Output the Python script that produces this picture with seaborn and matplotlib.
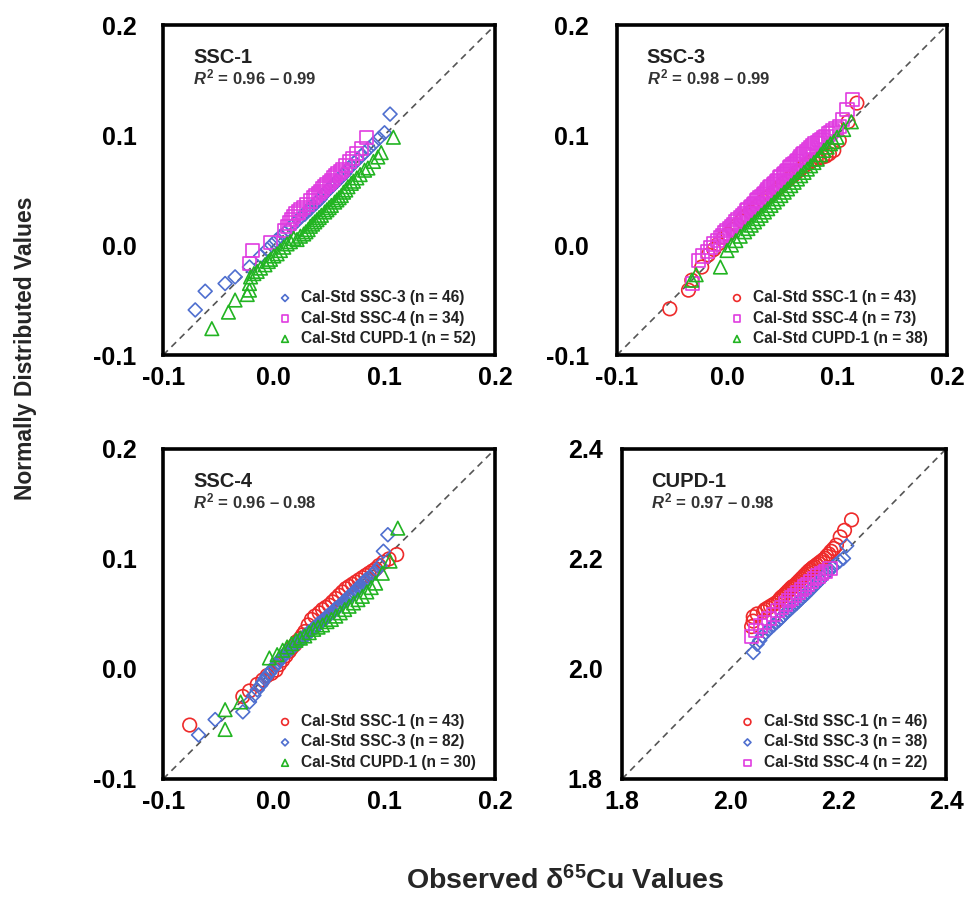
import matplotlib
matplotlib.use('Agg')
import matplotlib.pyplot as plt
import pandas as pd
import seaborn as sns

# panel SSC-1
p1_ssc3_x = [-0.071, -0.062, -0.044, -0.035, -0.022, -0.012, -0.006, -0.002, 0.002, 0.006,
             0.010, 0.013, 0.016, 0.019, 0.022, 0.025, 0.028, 0.030, 0.033, 0.035,
             0.038, 0.040, 0.042, 0.044, 0.046, 0.048, 0.050, 0.052, 0.054, 0.056,
             0.058, 0.060, 0.062, 0.064, 0.066, 0.068, 0.070, 0.073, 0.076, 0.079,
             0.082, 0.086, 0.090, 0.095, 0.100, 0.105]
p1_ssc3_y = [-0.059, -0.042, -0.035, -0.029, -0.020, -0.010, -0.004, 0.000, 0.004, 0.008,
             0.011, 0.014, 0.017, 0.020, 0.023, 0.026, 0.028, 0.031, 0.033, 0.036,
             0.038, 0.040, 0.042, 0.045, 0.047, 0.049, 0.051, 0.053, 0.055, 0.057,
             0.059, 0.061, 0.063, 0.065, 0.068, 0.070, 0.072, 0.075, 0.078, 0.081,
             0.084, 0.088, 0.092, 0.097, 0.102, 0.119]
p1_ssc4_x = [-0.022, -0.019, -0.003, 0.010, 0.012, 0.014, 0.016, 0.018, 0.020, 0.022,
             0.024, 0.027, 0.030, 0.033, 0.036, 0.038, 0.040, 0.042, 0.044, 0.046,
             0.048, 0.050, 0.052, 0.054, 0.056, 0.058, 0.060, 0.062, 0.065, 0.068,
             0.071, 0.075, 0.079, 0.084]
p1_ssc4_y = [-0.017, -0.005, 0.002, 0.013, 0.017, 0.020, 0.023, 0.026, 0.029, 0.030,
             0.032, 0.034, 0.037, 0.040, 0.043, 0.045, 0.047, 0.049, 0.051, 0.053,
             0.055, 0.057, 0.059, 0.061, 0.063, 0.065, 0.067, 0.069, 0.072, 0.076,
             0.079, 0.083, 0.088, 0.098]
p1_cupd_x = [-0.056, -0.041, -0.035, -0.024, -0.022, -0.022, -0.021, -0.018, -0.015, -0.012,
             -0.008, -0.005, -0.003, 0.000, 0.003, 0.006, 0.009, 0.012, 0.015, 0.018,
             0.021, 0.024, 0.027, 0.029, 0.031, 0.033, 0.035, 0.037, 0.039, 0.041,
             0.043, 0.046, 0.048, 0.050, 0.052, 0.055, 0.057, 0.059, 0.061, 0.063,
             0.065, 0.067, 0.070, 0.072, 0.075, 0.078, 0.082, 0.085, 0.090, 0.094,
             0.097, 0.108]
p1_cupd_y = [-0.076, -0.061, -0.050, -0.045, -0.041, -0.035, -0.029, -0.026, -0.024, -0.021,
             -0.018, -0.015, -0.013, -0.010, -0.008, -0.005, -0.002, 0.001, 0.003, 0.006,
             0.005, 0.008, 0.010, 0.012, 0.014, 0.017, 0.019, 0.021, 0.023, 0.025,
             0.027, 0.030, 0.032, 0.034, 0.036, 0.039, 0.041, 0.043, 0.045, 0.048,
             0.050, 0.053, 0.056, 0.058, 0.061, 0.064, 0.068, 0.070, 0.076, 0.080,
             0.084, 0.098]

# panel SSC-3
p2_ssc1_x = [-0.052, -0.035, -0.032, -0.023, -0.017, -0.012, -0.008, -0.003, 0.001, 0.005,
             0.009, 0.013, 0.015, 0.018, 0.021, 0.024, 0.027, 0.030, 0.033, 0.036,
             0.039, 0.042, 0.045, 0.048, 0.051, 0.054, 0.057, 0.060, 0.063, 0.066,
             0.069, 0.072, 0.075, 0.078, 0.081, 0.084, 0.087, 0.090, 0.093, 0.097,
             0.102, 0.110, 0.118]
p2_ssc1_y = [-0.058, -0.041, -0.032, -0.020, -0.009, -0.004, 0.001, 0.007, 0.010, 0.014,
             0.018, 0.022, 0.025, 0.027, 0.030, 0.032, 0.035, 0.038, 0.040, 0.043,
             0.045, 0.048, 0.050, 0.053, 0.056, 0.058, 0.061, 0.063, 0.066, 0.068,
             0.071, 0.073, 0.075, 0.077, 0.078, 0.079, 0.080, 0.081, 0.083, 0.086,
             0.095, 0.112, 0.129]
p2_ssc4_x = [-0.031, -0.026, -0.022, -0.018, -0.015, -0.012, -0.009, -0.006, -0.004, -0.002,
             0.000, 0.002, 0.004, 0.006, 0.008, 0.010, 0.012, 0.014, 0.016, 0.018,
             0.019, 0.021, 0.022, 0.024, 0.025, 0.027, 0.028, 0.030, 0.031, 0.033,
             0.034, 0.036, 0.037, 0.039, 0.040, 0.042, 0.043, 0.045, 0.046, 0.048,
             0.049, 0.051, 0.052, 0.054, 0.055, 0.057, 0.058, 0.060, 0.061, 0.063,
             0.064, 0.066, 0.067, 0.069, 0.070, 0.072, 0.074, 0.076, 0.078, 0.080,
             0.082, 0.084, 0.086, 0.088, 0.090, 0.092, 0.094, 0.096, 0.099, 0.102,
             0.105, 0.109, 0.114]
p2_ssc4_y = [-0.035, -0.014, -0.010, -0.006, -0.002, 0.001, 0.004, 0.007, 0.009, 0.011,
             0.013, 0.015, 0.017, 0.019, 0.021, 0.023, 0.025, 0.027, 0.029, 0.031,
             0.032, 0.034, 0.035, 0.037, 0.038, 0.040, 0.041, 0.043, 0.044, 0.046,
             0.047, 0.049, 0.050, 0.052, 0.053, 0.055, 0.056, 0.058, 0.059, 0.061,
             0.062, 0.064, 0.065, 0.067, 0.068, 0.070, 0.071, 0.073, 0.074, 0.076,
             0.077, 0.079, 0.080, 0.082, 0.083, 0.085, 0.087, 0.089, 0.090, 0.092,
             0.093, 0.095, 0.096, 0.098, 0.099, 0.101, 0.102, 0.104, 0.106, 0.108,
             0.114, 0.123, 0.132]
p2_cupd_x = [-0.032, -0.028, -0.006, 0.000, 0.004, 0.008, 0.012, 0.016, 0.019, 0.022,
             0.025, 0.028, 0.031, 0.034, 0.037, 0.040, 0.043, 0.046, 0.049, 0.052,
             0.055, 0.058, 0.061, 0.064, 0.067, 0.070, 0.073, 0.076, 0.079, 0.082,
             0.085, 0.088, 0.091, 0.094, 0.097, 0.100, 0.106, 0.113]
p2_cupd_y = [-0.032, -0.027, -0.020, -0.005, 0.000, 0.004, 0.008, 0.012, 0.015, 0.018,
             0.021, 0.024, 0.027, 0.030, 0.033, 0.036, 0.039, 0.042, 0.045, 0.048,
             0.051, 0.054, 0.057, 0.060, 0.063, 0.066, 0.069, 0.072, 0.075, 0.078,
             0.082, 0.086, 0.089, 0.092, 0.094, 0.098, 0.105, 0.112]

# panel SSC-4
p3_ssc1_x = [-0.076, -0.028, -0.022, -0.015, -0.010, -0.006, -0.002, 0.002, 0.005, 0.008,
             0.011, 0.014, 0.016, 0.019, 0.021, 0.024, 0.026, 0.028, 0.031, 0.034,
             0.037, 0.041, 0.044, 0.047, 0.050, 0.053, 0.056, 0.059, 0.062, 0.065,
             0.068, 0.071, 0.074, 0.077, 0.080, 0.083, 0.086, 0.089, 0.092, 0.095,
             0.099, 0.104, 0.111]
p3_ssc1_y = [-0.051, -0.025, -0.020, -0.014, -0.010, -0.006, -0.004, -0.001, 0.004, 0.008,
             0.012, 0.016, 0.019, 0.022, 0.025, 0.028, 0.031, 0.034, 0.040, 0.045,
             0.048, 0.051, 0.054, 0.056, 0.058, 0.061, 0.064, 0.067, 0.070, 0.073,
             0.075, 0.077, 0.079, 0.081, 0.083, 0.085, 0.087, 0.089, 0.091, 0.094,
             0.097, 0.100, 0.104]
p3_ssc3_x = [-0.068, -0.053, -0.028, -0.022, -0.018, -0.015, -0.012, -0.010, -0.008, -0.006,
             -0.004, -0.002, 0.000, 0.002, 0.004, 0.005, 0.007, 0.008, 0.010, 0.011,
             0.012, 0.014, 0.015, 0.016, 0.018, 0.019, 0.020, 0.022, 0.023, 0.024,
             0.026, 0.027, 0.028, 0.030, 0.031, 0.032, 0.034, 0.035, 0.036, 0.038,
             0.039, 0.040, 0.042, 0.043, 0.044, 0.046, 0.047, 0.048, 0.050, 0.051,
             0.052, 0.054, 0.055, 0.056, 0.058, 0.059, 0.060, 0.062, 0.063, 0.064,
             0.066, 0.067, 0.068, 0.070, 0.071, 0.072, 0.074, 0.075, 0.076, 0.078,
             0.079, 0.080, 0.082, 0.083, 0.085, 0.087, 0.089, 0.091, 0.093, 0.096,
             0.099, 0.103]
p3_ssc3_y = [-0.060, -0.046, -0.039, -0.030, -0.024, -0.019, -0.015, -0.012, -0.009, -0.006,
             -0.004, -0.001, 0.001, 0.004, 0.006, 0.008, 0.010, 0.011, 0.013, 0.014,
             0.016, 0.017, 0.018, 0.019, 0.021, 0.022, 0.023, 0.024, 0.025, 0.027,
             0.028, 0.029, 0.030, 0.031, 0.032, 0.034, 0.035, 0.036, 0.037, 0.038,
             0.039, 0.041, 0.042, 0.043, 0.044, 0.045, 0.046, 0.048, 0.049, 0.050,
             0.051, 0.052, 0.054, 0.055, 0.056, 0.057, 0.058, 0.060, 0.061, 0.062,
             0.063, 0.065, 0.066, 0.067, 0.068, 0.070, 0.071, 0.072, 0.074, 0.075,
             0.076, 0.078, 0.079, 0.081, 0.082, 0.084, 0.086, 0.088, 0.090, 0.094,
             0.107, 0.122]
p3_cupd_x = [-0.044, -0.044, -0.030, -0.004, 0.003, 0.008, 0.012, 0.016, 0.020, 0.024,
             0.028, 0.032, 0.036, 0.040, 0.044, 0.048, 0.052, 0.056, 0.060, 0.064,
             0.068, 0.072, 0.076, 0.080, 0.084, 0.088, 0.092, 0.098, 0.105, 0.112]
p3_cupd_y = [-0.055, -0.037, -0.030, 0.010, 0.013, 0.017, 0.020, 0.023, 0.026, 0.028,
             0.030, 0.033, 0.036, 0.038, 0.040, 0.043, 0.045, 0.048, 0.051, 0.054,
             0.057, 0.060, 0.063, 0.066, 0.070, 0.074, 0.078, 0.087, 0.098, 0.128]

# panel CUPD-1
p4_ssc1_x = [2.040, 2.043, 2.043, 2.050, 2.062, 2.065, 2.070, 2.075, 2.080, 2.085,
             2.090, 2.093, 2.096, 2.100, 2.103, 2.106, 2.109, 2.112, 2.115, 2.117,
             2.120, 2.123, 2.126, 2.129, 2.132, 2.135, 2.138, 2.141, 2.144, 2.147,
             2.150, 2.153, 2.156, 2.160, 2.164, 2.168, 2.172, 2.176, 2.179, 2.183,
             2.187, 2.192, 2.197, 2.204, 2.212, 2.225]
p4_ssc1_y = [2.077, 2.087, 2.095, 2.100, 2.104, 2.108, 2.111, 2.114, 2.117, 2.120,
             2.124, 2.128, 2.131, 2.134, 2.137, 2.140, 2.143, 2.146, 2.149, 2.150,
             2.152, 2.155, 2.158, 2.161, 2.164, 2.167, 2.170, 2.173, 2.176, 2.179,
             2.181, 2.184, 2.186, 2.189, 2.192, 2.195, 2.198, 2.201, 2.205, 2.209,
             2.214, 2.219, 2.225, 2.240, 2.252, 2.271]
p4_ssc3_x = [2.043, 2.050, 2.055, 2.060, 2.066, 2.071, 2.076, 2.081, 2.086, 2.091,
             2.095, 2.099, 2.103, 2.107, 2.111, 2.115, 2.119, 2.123, 2.127, 2.131,
             2.135, 2.139, 2.143, 2.147, 2.151, 2.155, 2.159, 2.163, 2.167, 2.171,
             2.175, 2.180, 2.185, 2.190, 2.196, 2.203, 2.210, 2.216]
p4_ssc3_y = [2.030, 2.045, 2.052, 2.060, 2.066, 2.071, 2.076, 2.080, 2.085, 2.089,
             2.093, 2.097, 2.101, 2.105, 2.108, 2.112, 2.116, 2.119, 2.123, 2.127,
             2.131, 2.134, 2.138, 2.142, 2.146, 2.150, 2.154, 2.158, 2.162, 2.166,
             2.170, 2.175, 2.180, 2.185, 2.190, 2.196, 2.201, 2.224]
p4_ssc4_x = [2.040, 2.048, 2.056, 2.064, 2.072, 2.080, 2.088, 2.095, 2.102, 2.108,
             2.114, 2.120, 2.126, 2.132, 2.138, 2.144, 2.150, 2.156, 2.163, 2.170,
             2.177, 2.185]
p4_ssc4_y = [2.059, 2.070, 2.078, 2.085, 2.092, 2.099, 2.106, 2.112, 2.118, 2.124,
             2.129, 2.134, 2.139, 2.144, 2.149, 2.154, 2.159, 2.164, 2.169, 2.174,
             2.177, 2.182]

titles = ['SSC-1', 'SSC-3', 'SSC-4', 'CUPD-1']
r2_text = ['0.96 \u2013 0.99', '0.98 \u2013 0.99', '0.96 \u2013 0.98', '0.97 \u2013 0.98']
limits = [(-0.1, 0.2), (-0.1, 0.2), (-0.1, 0.2), (1.8, 2.4)]
tick_vals = [[-0.1, 0.0, 0.1, 0.2]] * 3 + [[1.8, 2.0, 2.2, 2.4]]

RED, BLUE, MAG, GREEN = '#EE2A2A', '#4F6FCF', '#E03CE0', '#22B422'
style = {'SSC-1': ('o', RED, 95), 'SSC-3': ('D', BLUE, 50),
         'SSC-4': ('s', MAG, 90), 'CUPD-1': ('^', GREEN, 95)}

panels = [
    [('SSC-3', 46, p1_ssc3_x, p1_ssc3_y), ('SSC-4', 34, p1_ssc4_x, p1_ssc4_y), ('CUPD-1', 52, p1_cupd_x, p1_cupd_y)],
    [('SSC-1', 43, p2_ssc1_x, p2_ssc1_y), ('SSC-4', 73, p2_ssc4_x, p2_ssc4_y), ('CUPD-1', 38, p2_cupd_x, p2_cupd_y)],
    [('SSC-1', 43, p3_ssc1_x, p3_ssc1_y), ('SSC-3', 82, p3_ssc3_x, p3_ssc3_y), ('CUPD-1', 30, p3_cupd_x, p3_cupd_y)],
    [('SSC-1', 46, p4_ssc1_x, p4_ssc1_y), ('SSC-3', 38, p4_ssc3_x, p4_ssc3_y), ('SSC-4', 22, p4_ssc4_x, p4_ssc4_y)],
]

sns.set_style('white')
plt.rcParams['font.family'] = ['Liberation Sans', 'DejaVu Sans']
plt.rcParams['font.weight'] = 'bold'
plt.rcParams['axes.unicode_minus'] = False
plt.rcParams['mathtext.fontset'] = 'custom'
plt.rcParams['mathtext.rm'] = 'Liberation Sans:bold'
plt.rcParams['mathtext.it'] = 'Liberation Sans:italic:bold'
plt.rcParams['mathtext.bf'] = 'Liberation Sans:bold'

fig = plt.figure(figsize=(9.71, 9.16), dpi=100)
boxes = [[0.168, 0.6124, 0.342, 0.3603], [0.6354, 0.6124, 0.340, 0.3603],
         [0.168, 0.1496, 0.342, 0.3603], [0.6406, 0.1496, 0.3337, 0.3603]]
ypads = [19, 20, 19, 14]

for i, box in enumerate(boxes):
    ax = fig.add_axes(box)
    lo, hi = limits[i]
    ax.plot([lo, hi], [lo, hi], ls=(0, (4, 3)), color='#555555', lw=1.2, zorder=1)
    for name, n, xs, ys in panels[i]:
        mk, col, s = style[name]
        df = pd.DataFrame({'obs': xs, 'norm': ys})
        sns.scatterplot(data=df, x='obs', y='norm', ax=ax, marker=mk, s=s,
                        facecolors='none', edgecolor=col, linewidth=1.2,
                        label=f'Cal-Std {name} (n = {n})', zorder=3)
    ax.set_xlim(lo, hi)
    ax.set_ylim(lo, hi)
    ax.set_xticks(tick_vals[i])
    ax.set_yticks(tick_vals[i])
    ax.xaxis.set_major_formatter(matplotlib.ticker.FormatStrFormatter('%.1f'))
    ax.yaxis.set_major_formatter(matplotlib.ticker.FormatStrFormatter('%.1f'))
    ax.set_xlabel('')
    ax.set_ylabel('')
    ax.tick_params(direction='in', length=6, width=2, labelsize=18, colors='black')
    ax.tick_params(axis='x', pad=8)
    ax.tick_params(axis='y', pad=ypads[i])
    for lab in ax.get_xticklabels() + ax.get_yticklabels():
        lab.set_fontweight('bold')
    for sp in ax.spines.values():
        sp.set_visible(True)
        sp.set_linewidth(2.6)
        sp.set_color('black')
    ax.text(0.09, 0.885, titles[i], transform=ax.transAxes, fontsize=14.5, fontweight='bold',
            color='#222222')
    ax.text(0.09, 0.82, '$R^2$ = ' + r2_text[i], transform=ax.transAxes, fontsize=12,
            fontweight='bold', color='#333333')
    leg = ax.legend(loc='lower right', bbox_to_anchor=(0.985, -0.015), frameon=False,
                    markerscale=0.5, handletextpad=0.05, labelspacing=0.35,
                    prop={'weight': 'bold', 'size': 11.2})
    for t in leg.get_texts():
        t.set_color('#222222')

fig.text(0.026, 0.62, 'Normally Distributed Values', rotation=90, ha='center', va='center',
         fontsize=16.5, fontweight='bold')
fig.text(0.582, 0.039, 'Observed δ$^{65}$Cu Values', ha='center', va='center',
         fontsize=20.5, fontweight='bold')

fig.savefig('out.png', dpi=100)
